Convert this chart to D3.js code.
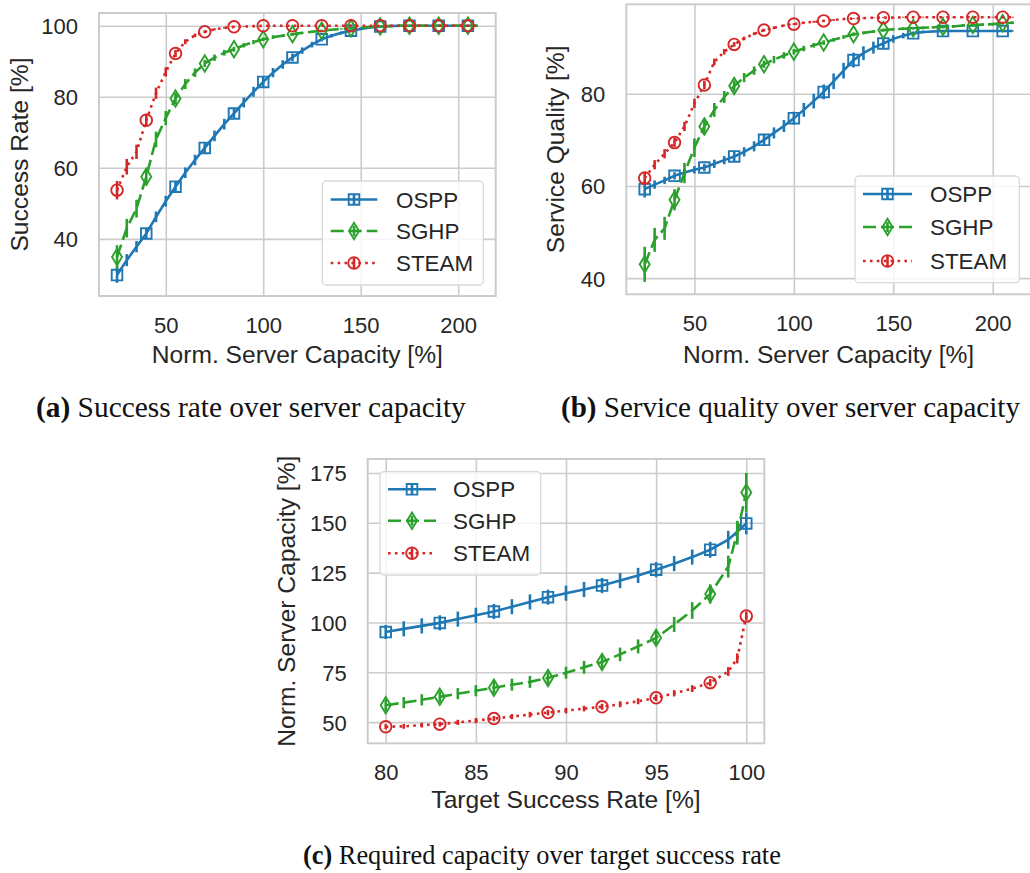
<!DOCTYPE html>
<html>
<head>
<meta charset="utf-8">
<script src="https://cdn.jsdelivr.net/npm/d3@7"></script>
<style>
  body { margin: 0; background: #ffffff; }
  svg { display: block; }
</style>
</head>
<body>
<svg id="fig" width="1030" height="873"></svg>
<script>
// ---------- data ----------
const seriesNames = ["OSPP", "SGHP", "STEAM"];

// (a) and (b): normalized server capacity [%]
const capacity = [25,30,35,40,45,50,55,60,65,70,75,80,85,90,95,100,105,110,115,120,
                  125,130,135,140,145,150,155,160,165,170,175,180,185,190,195,200,205,210];

// (a) success rate [%] and its spread
const successOSPP  = [29.8,34.0,37.8,41.5,46.2,50.6,54.7,58.6,62.2,65.6,69.0,72.3,75.3,78.4,81.4,84.2,86.8,89.1,91.1,93.0,
                      94.7,96.2,97.2,98.0,98.6,99.1,99.5,99.8,99.9,100,100,100,100,100,100,100,100,100];
const successSGHP  = [34.9,43.0,48.5,57.5,68.0,74.0,79.5,83.6,86.8,89.4,91.0,92.4,93.4,94.5,95.4,96.2,96.8,97.2,97.6,98.0,
                      98.3,98.6,98.9,99.1,99.3,99.5,99.7,99.8,99.9,100,100,100,100,100,100,100,100,100];
const successSTEAM = [53.7,60.3,64.5,73.4,81.0,87.0,92.2,95.5,97.3,98.3,99.0,99.4,99.7,99.8,99.9,100,100,100,100,100,
                      100,100,100,100,100,100,100,100,100,100,100,100,100,100,100,100,100,100];
const successErrOSPP  = [2.2,1.7,1.6,1.5,1.5,1.5,1.5,1.5,1.5,1.5,1.5,1.5,1.5,1.4,1.4,1.4,1.3,1.2,1.1,0.9,
                         0.8,0.6,0.5,0.4,0.3,0.3,0.2,0.1,0.1,0,0,0,0,0,0,0,0,0];
const successErrSGHP  = [3.3,2.6,2.5,2.3,2.2,2.0,1.6,1.4,1.2,1.0,0.9,0.8,0.7,0.6,0.6,0.5,0.5,0.4,0.4,0.3,
                         0.3,0.3,0.2,0.2,0.2,0.1,0.1,0.1,0.1,0,0,0,0,0,0,0,0,0];
const successErrSTEAM = [2.6,2.2,2.0,1.8,1.6,1.3,1.0,0.7,0.5,0.4,0.3,0.2,0.2,0.1,0.1,0,0,0,0,0,
                         0,0,0,0,0,0,0,0,0,0,0,0,0,0,0,0,0,0];

// (b) service quality [%] and its spread
const qualityOSPP  = [59.3,60.3,61.2,62.2,62.9,63.5,64.0,64.8,65.6,66.4,67.4,68.6,70.0,71.5,73.0,74.7,76.5,78.4,80.4,82.7,
                      85.0,87.3,88.8,90.0,90.9,91.9,92.6,93.1,93.4,93.5,93.6,93.6,93.6,93.6,93.6,93.6,93.6,93.6];
const qualitySGHP  = [43.0,48.3,50.8,57.0,62.8,68.3,72.9,76.5,79.3,81.7,83.5,85.0,86.4,87.4,88.3,89.1,89.8,90.5,91.1,91.7,
                      92.3,92.9,93.2,93.5,93.8,94.0,94.1,94.2,94.3,94.4,94.5,94.6,94.8,94.9,95.0,95.1,95.3,95.4];
const qualitySTEAM = [61.7,64.6,67.0,69.4,72.9,77.9,81.9,86.9,89.1,90.7,92.0,93.0,93.8,94.3,94.8,95.1,95.4,95.6,95.8,96.0,
                      96.2,96.3,96.4,96.5,96.5,96.5,96.6,96.6,96.6,96.6,96.6,96.6,96.6,96.6,96.6,96.6,96.6,96.6];
const qualityErrOSPP  = [1.8,0.9,0.8,0.8,0.8,0.8,0.8,0.9,0.9,1.0,1.0,1.1,1.2,1.2,1.3,1.4,1.5,1.6,1.6,1.7,
                         1.7,1.6,1.5,1.3,1.0,0.8,0.6,0.4,0.3,0.2,0.2,0.1,0.1,0.1,0.1,0.1,0.1,0.1];
const qualityErrSGHP  = [3.8,2.6,2.5,2.3,2.2,2.0,1.8,1.5,1.3,1.2,1.0,0.9,0.8,0.8,0.7,0.6,0.6,0.5,0.5,0.4,
                         0.4,0.4,0.3,0.3,0.3,0.3,0.3,0.3,0.3,0.3,0.3,0.3,0.3,0.3,0.3,0.3,0.3,0.3];
const qualityErrSTEAM = [1.2,1.0,1.0,1.0,1.0,1.0,0.9,0.7,0.6,0.5,0.4,0.3,0.3,0.3,0.2,0.2,0.2,0.2,0.2,0.2,
                         0.1,0.1,0.1,0.1,0.1,0.1,0.1,0.1,0.1,0.1,0.1,0.1,0.1,0.1,0.1,0.1,0.1,0.1];

// (c): target success rate [%] -> required capacity [%]
const targetRate = [80,81,82,83,84,85,86,87,88,89,90,91,92,93,94,95,96,97,98,99,99.5,100];
const requiredOSPP  = [95.2,96.8,98.3,99.8,101.7,103.6,105.5,107.9,110.3,112.7,114.7,116.5,118.5,121.0,123.6,126.5,129.5,132.8,136.5,141.5,145.5,149.7];
const requiredSGHP  = [58.5,59.8,61.2,62.7,64.3,65.8,67.3,68.8,70.2,72.2,74.8,77.5,80.2,84.0,88.0,92.3,99.0,106.0,114.3,128.0,145.0,165.2];
const requiredSTEAM = [47.7,47.9,48.5,49.0,49.9,50.8,51.8,52.8,53.8,54.8,55.8,56.8,57.7,59.0,60.5,62.2,64.5,66.8,69.8,75.4,82.0,103.2];
const requiredErrOSPP  = [3.5,3.8,3.8,3.8,3.8,3.8,3.8,3.8,3.8,3.8,3.8,3.8,3.8,3.8,3.8,3.8,3.8,3.8,4.0,4.5,5.0,5.5];
const requiredErrSGHP  = [3.0,2.8,2.8,2.8,2.8,2.8,3.0,3.0,3.0,3.0,3.0,3.2,3.2,3.4,3.5,3.6,3.8,4.2,4.8,5.5,6.0,9.8];
const requiredErrSTEAM = [1.3,1.2,1.2,1.2,1.3,1.3,1.3,1.3,1.4,1.4,1.4,1.4,1.5,1.5,1.5,1.6,1.6,1.7,1.8,2.2,2.5,2.2];

// tick labels
const capacityTicks = [50, 100, 150, 200];
const successTicks  = [40, 60, 80, 100];
const qualityTicks  = [40, 60, 80];
const rateTicks     = [80, 85, 90, 95, 100];
const requiredTicks = [50, 75, 100, 125, 150, 175];

// ---------- styling ----------
const COLORS = ["#1f77b4", "#2ca02c", "#d62728"];
const DASHES = [null, "13,5", "2.6,4.3"];
const MARKERS = ["square", "thin_diamond", "circle"];
const GRID = "#cccccc";
const INK = "#262626";
const SANS = "'Liberation Sans', Arial, sans-serif";
const SERIF = "'Liberation Serif', 'Times New Roman', serif";
const LW = 2.6;

const svg = d3.select("#fig");

function markerPath(kind) {
  if (kind === "square") return "M-5.3,-5.3H5.3V5.3H-5.3Z";
  if (kind === "thin_diamond") return "M0,-8.2L5,0L0,8.2L-5,0Z";
  return d3.symbol(d3.symbolCircle, Math.PI * 5.8 * 5.8)();
}

function drawPanel(P) {
  const x = d3.scaleLinear().domain(P.xDomain).range([P.left, P.right]);
  const y = d3.scaleLinear().domain(P.yDomain).range([P.bottom, P.top]);
  const g = svg.append("g");

  // grid + tick labels
  const gx = g.append("g")
    .attr("transform", `translate(0,${P.bottom})`)
    .call(d3.axisBottom(x).tickValues(P.xTicks).tickFormat(d3.format("d"))
      .tickSize(-(P.bottom - P.top)));
  const gy = g.append("g")
    .attr("transform", `translate(${P.left},0)`)
    .call(d3.axisLeft(y).tickValues(P.yTicks).tickFormat(d3.format("d"))
      .tickSize(-(P.right - P.left)));
  [gx, gy].forEach(a => {
    a.select(".domain").remove();
    a.attr("font-family", SANS).attr("font-size", 22);
    a.selectAll(".tick line").attr("stroke", GRID).attr("stroke-width", 1.6);
    a.selectAll(".tick text").attr("fill", INK);
  });
  gx.selectAll(".tick text").attr("y", 37).attr("dy", null);
  gy.selectAll(".tick text").attr("x", -21).attr("dy", "0.36em");

  // frame
  g.append("rect")
    .attr("x", P.left).attr("y", P.top)
    .attr("width", P.right - P.left).attr("height", P.bottom - P.top)
    .attr("fill", "none").attr("stroke", GRID).attr("stroke-width", 2);

  // axis titles
  g.append("text")
    .attr("x", (P.left + P.right) / 2).attr("y", P.xLabelY)
    .attr("text-anchor", "middle")
    .attr("font-family", SANS).attr("font-size", 24.6).attr("fill", INK)
    .text(P.xLabel);
  g.append("text")
    .attr("transform", `translate(${P.yLabelX},${(P.top + P.bottom) / 2}) rotate(-90)`)
    .attr("text-anchor", "middle")
    .attr("font-family", SANS).attr("font-size", 24.6).attr("fill", INK)
    .text(P.yLabel);

  // series: error bars, line, markers every third point
  const line = d3.line().x(d => x(d.x)).y(d => y(d.y));
  P.series.forEach((s, k) => {
    const pts = P.xs.map((v, i) => ({ x: v, y: s.values[i], e: s.errors[i], i }));
    const sg = g.append("g");
    sg.selectAll("line.err").data(pts.filter(d => d.e > 0)).join("line")
      .attr("x1", d => x(d.x)).attr("x2", d => x(d.x))
      .attr("y1", d => y(d.y - d.e)).attr("y2", d => y(d.y + d.e))
      .attr("stroke", COLORS[k]).attr("stroke-width", LW);
    sg.append("path").datum(pts)
      .attr("d", line)
      .attr("fill", "none").attr("stroke", COLORS[k]).attr("stroke-width", LW)
      .attr("stroke-dasharray", DASHES[k]);
    sg.selectAll("path.mk").data(pts.filter(d => d.i % 3 === 0)).join("path")
      .attr("class", "mk")
      .attr("transform", d => `translate(${x(d.x)},${y(d.y)})`)
      .attr("d", markerPath(MARKERS[k]))
      .attr("fill", "none").attr("stroke", COLORS[k]).attr("stroke-width", 1.9);
  });

  // legend
  const L = P.legend;
  const lg = g.append("g");
  lg.append("rect")
    .attr("x", L.x).attr("y", L.y).attr("width", L.w).attr("height", L.h)
    .attr("rx", 4).attr("fill", "#ffffff").attr("fill-opacity", 0.8)
    .attr("stroke", "#d9d9d9").attr("stroke-width", 1.3);
  seriesNames.forEach((name, k) => {
    const cy = L.rows[k];
    const cx = (L.hx0 + L.hx1) / 2;
    lg.append("line")
      .attr("x1", L.hx0).attr("x2", L.hx1).attr("y1", cy).attr("y2", cy)
      .attr("stroke", COLORS[k]).attr("stroke-width", LW)
      .attr("stroke-dasharray", DASHES[k]);
    lg.append("line")
      .attr("x1", cx).attr("x2", cx).attr("y1", cy - 5).attr("y2", cy + 5)
      .attr("stroke", COLORS[k]).attr("stroke-width", LW);
    lg.append("path")
      .attr("transform", `translate(${cx},${cy})`)
      .attr("d", markerPath(MARKERS[k]))
      .attr("fill", "none").attr("stroke", COLORS[k]).attr("stroke-width", 1.9);
    lg.append("text")
      .attr("x", L.tx).attr("y", cy).attr("dy", "0.36em")
      .attr("font-family", SANS).attr("font-size", 22.4).attr("fill", INK)
      .text(name);
  });
}

drawPanel({
  left: 99, right: 495.7, top: 13, bottom: 296,
  xDomain: [15.75, 219.25], yDomain: [23.9, 103.6],
  xTicks: capacityTicks, yTicks: successTicks,
  xLabel: "Norm. Server Capacity [%]", xLabelY: 363,
  yLabel: "Success Rate [%]", yLabelX: 28,
  xs: capacity,
  series: [
    { values: successOSPP,  errors: successErrOSPP },
    { values: successSGHP,  errors: successErrSGHP },
    { values: successSTEAM, errors: successErrSTEAM }
  ],
  legend: { x: 322.3, y: 181, w: 161, h: 104, rows: [199.5, 231, 263], hx0: 330.7, hx1: 377.3, tx: 396 }
});

drawPanel({
  left: 626.3, right: 1031, top: 4.3, bottom: 294.3,
  xDomain: [15.75, 219.25], yDomain: [36.5, 99.4],
  xTicks: capacityTicks, yTicks: qualityTicks,
  xLabel: "Norm. Server Capacity [%]", xLabelY: 363,
  yLabel: "Service Quality [%]", yLabelX: 563.5,
  xs: capacity,
  series: [
    { values: qualityOSPP,  errors: qualityErrOSPP },
    { values: qualitySGHP,  errors: qualityErrSGHP },
    { values: qualitySTEAM, errors: qualityErrSTEAM }
  ],
  legend: { x: 855, y: 176, w: 164.3, h: 106.7, rows: [194, 227, 261], hx0: 863, hx1: 912, tx: 930 }
});

drawPanel({
  left: 367.7, right: 764.3, top: 459, bottom: 743.3,
  xDomain: [79, 101], yDomain: [39.4, 182],
  xTicks: rateTicks, yTicks: requiredTicks,
  xLabel: "Target Success Rate [%]", xLabelY: 808,
  yLabel: "Norm. Server Capacity [%]", yLabelX: 294.5,
  xs: targetRate,
  series: [
    { values: requiredOSPP,  errors: requiredErrOSPP },
    { values: requiredSGHP,  errors: requiredErrSGHP },
    { values: requiredSTEAM, errors: requiredErrSTEAM }
  ],
  legend: { x: 380, y: 471.7, w: 160.7, h: 103.3, rows: [489.3, 520.7, 553.3], hx0: 388, hx1: 436, tx: 453 }
});

// sub-figure captions, sized to their column width
function caption(tag, body, x0, x1, baseline) {
  const t = svg.append("text")
    .attr("x", x0).attr("y", baseline)
    .attr("font-family", SERIF).attr("font-size", 20).attr("fill", "#111111");
  t.append("tspan").attr("font-weight", "bold").text(tag);
  t.append("tspan").text(" " + body);
  const w = t.node().getComputedTextLength();
  t.attr("font-size", 20 * (x1 - x0) / w);
}
caption("(a)", "Success rate over server capacity", 36, 466, 417);
caption("(b)", "Service quality over server capacity", 561, 1020, 417);
caption("(c)", "Required capacity over target success rate", 303, 781, 864);
</script>
</body>
</html>
